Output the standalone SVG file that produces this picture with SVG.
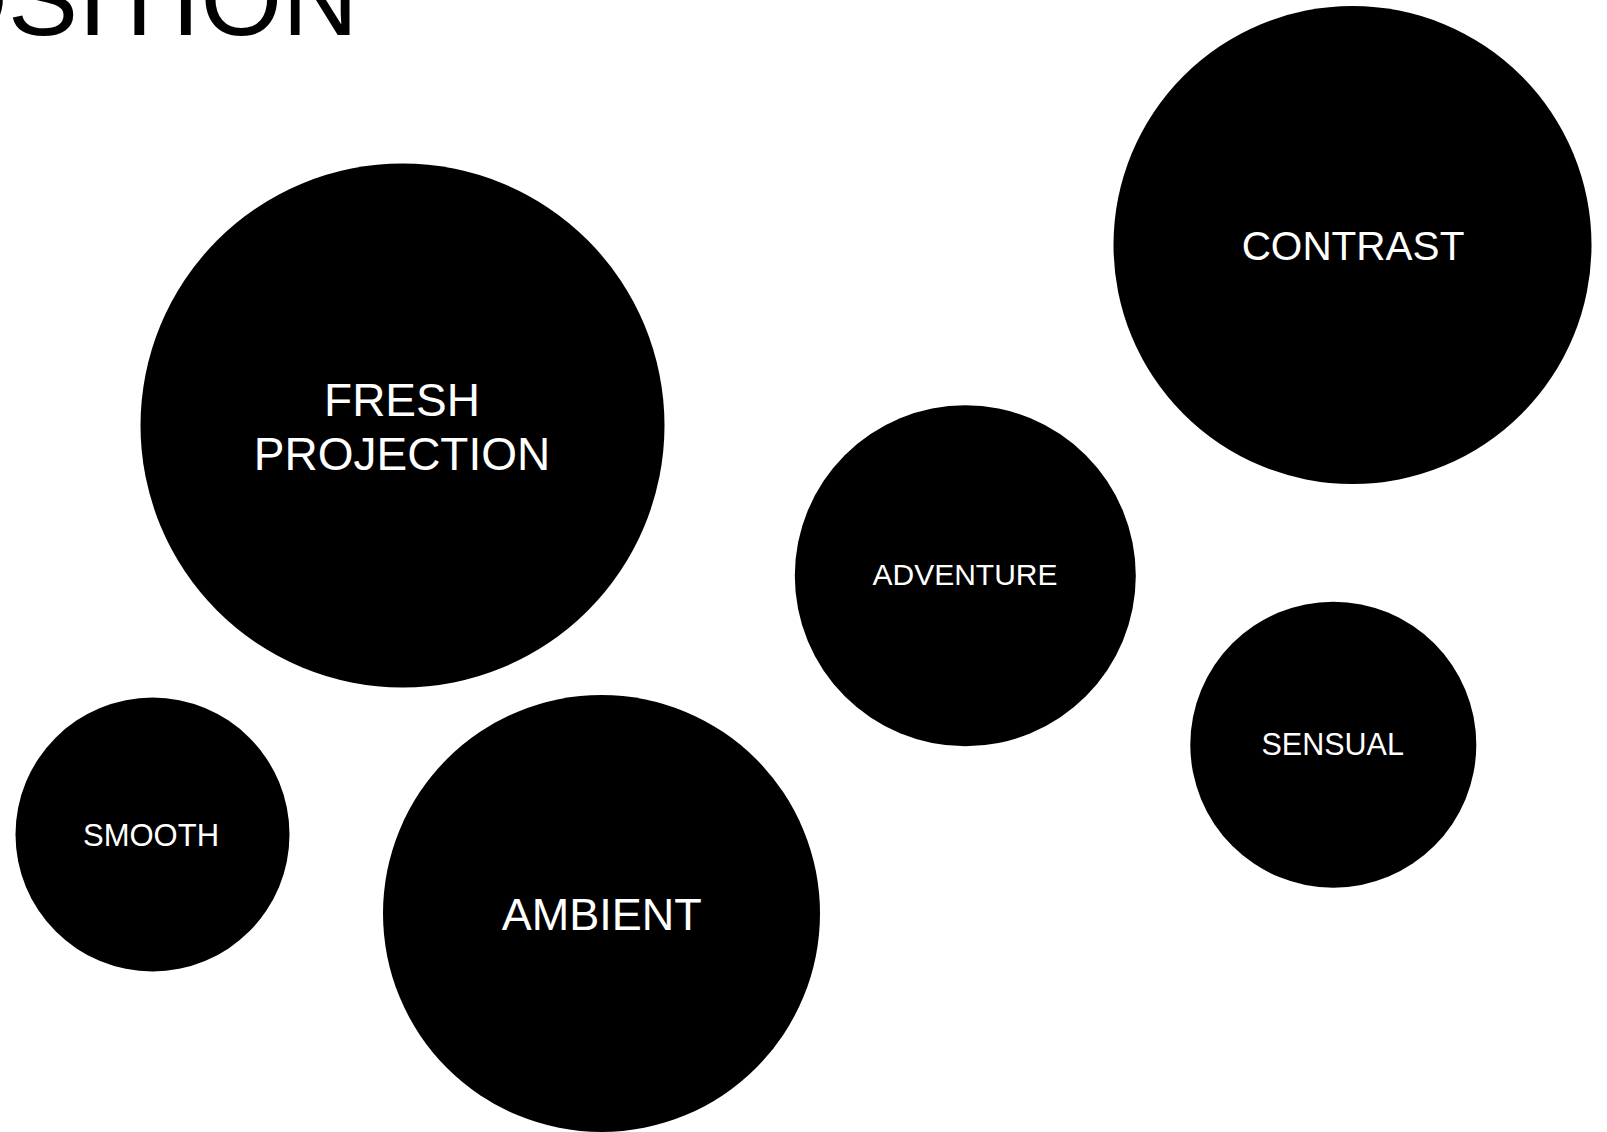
<svg xmlns="http://www.w3.org/2000/svg" width="1607" height="1132" viewBox="0 0 1607 1132">
  <style>
    .bubble { fill: #000000; }
    .label { fill: #ffffff; font-family: "Liberation Sans", Arial, Helvetica, sans-serif; text-anchor: middle; }
    .title { fill: #000000; font-family: "Liberation Sans", Arial, Helvetica, sans-serif; font-size: 105px; text-anchor: end; }
  </style>
  <rect width="1607" height="1132" fill="#ffffff"/>

  <!-- heading, running off the top-left corner -->
  <text class="title" x="358" y="35">OSITION</text>

  <!-- no links between the bubbles -->
  <g id="connectors"></g>

  <g id="node-fresh-projection">
    <circle class="bubble" cx="402.5" cy="425.5" r="262"/>
    <text class="label" x="402" y="416" font-size="46">FRESH</text>
    <text class="label" x="402" y="470" font-size="46">PROJECTION</text>
  </g>

  <g id="node-contrast">
    <circle class="bubble" cx="1352.5" cy="245" r="239"/>
    <text class="label" x="1353" y="259.5" font-size="40.5">CONTRAST</text>
  </g>

  <g id="node-adventure">
    <circle class="bubble" cx="965.3" cy="575.8" r="170.5"/>
    <text class="label" x="965" y="585" font-size="30">ADVENTURE</text>
  </g>

  <g id="node-sensual">
    <circle class="bubble" cx="1333.3" cy="744.7" r="143"/>
    <text class="label" x="1332.7" y="755" font-size="30.5">SENSUAL</text>
  </g>

  <g id="node-smooth">
    <circle class="bubble" cx="152.5" cy="834.5" r="137"/>
    <text class="label" x="151" y="845.5" font-size="31">SMOOTH</text>
  </g>

  <g id="node-ambient">
    <circle class="bubble" cx="601.5" cy="913.5" r="218.5"/>
    <text class="label" x="601.7" y="930" font-size="45">AMBIENT</text>
  </g>
</svg>
